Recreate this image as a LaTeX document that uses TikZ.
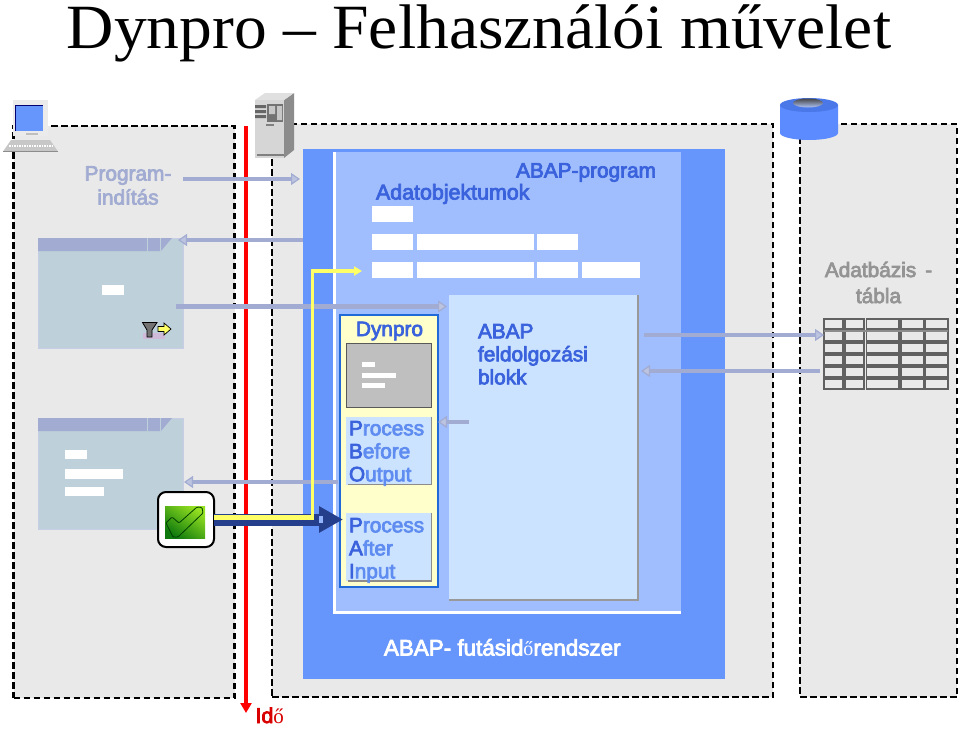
\documentclass[tikz,border=0pt]{standalone}
\usepackage{fontspec}
\usetikzlibrary{arrows.meta,fit,calc,shapes.geometric}
\setmainfont{Liberation Sans}
\newfontfamily\sbf{Liberation Sans}[FakeBold=3.5]
\newfontfamily\ser{Liberation Serif}
\newfontfamily\sertitle{Liberation Serif}[FakeStretch=1.04]
\definecolor{panelgrey}{HTML}{E9E9E9}
\definecolor{rtblue}{HTML}{6696FC}
\definecolor{progblue}{HTML}{A0BEFD}
\definecolor{blockblue}{HTML}{CCE3FF}
\definecolor{txtblue}{HTML}{3A62DC}
\definecolor{txtlight}{HTML}{5F8CF0}
\definecolor{flow}{HTML}{A2ACD2}
\definecolor{flowlt}{HTML}{BCC4E0}
\definecolor{screenbg}{HTML}{BED0DA}
\definecolor{dkblue}{HTML}{263F8C}
\definecolor{yel}{HTML}{FFFF66}
\definecolor{paleyel}{HTML}{FFFFCC}
\definecolor{frame}{HTML}{1F6AD8}
\definecolor{dbbody}{HTML}{5C8AFF}
\definecolor{dbtop}{HTML}{4A78E8}
\definecolor{okhi}{HTML}{95E020}
\definecolor{oklo}{HTML}{0E7A0E}
\tikzset{
  x=1pt,y=-1pt,
  every node/.style={inner sep=0pt,outer sep=0pt},
  box/.style={fit={#1},inner sep=0pt,outer sep=0pt},
  panel/.style={draw=black,fill=panelgrey,line width=2.3pt,dash pattern=on 6.5pt off 3.5pt},
  wbar/.style={fill=white},
  flowarrow/.style={draw=flow,line width=4.4pt,-{Triangle[length=9pt,width=12pt,line width=1.2pt,fill=flowlt,color=flow]}},
  lbl/.style={font={\fontsize{20.8}{23}\selectfont\sbf},align=left,anchor=north west,text=txtblue},
  dbcell/.style={draw=black!62,line width=1.1pt},
}
\newcommand{\Cap}[2]{\textcolor{txtblue}{#1}\textcolor{txtlight}{#2}}
\begin{document}
\begin{tikzpicture}
\useasboundingbox (0,0) rectangle (960,728);
\fill[white] (0,0) rectangle (960,728);
\node[anchor=base,font={\fontsize{63}{67}\selectfont\sertitle}] (title) at (479,48) {Dynpro – Felhasználói művelet};

% dashed panels
\node[box={(13.5,126)(234.5,698)},panel] (client) {};
\node[box={(272,124)(773,697)},panel] (server) {};
\node[box={(800,124)(957,697)},panel] (dbpanel) {};

% runtime + program
\node[box={(303,149)(725,679)},fill=rtblue] (runtime) {};
\node[box={(334.5,152)(681,612.5)},fill=progblue] (program) {};
\draw[white,line width=2.5pt] (program.north west) -- (program.south west) -- (program.south east);

% data objects
\node[box={(372,206)(413,222)},wbar] (d1) {};
\node[box={(372,234)(413,250)},wbar] (d2) {};
\node[box={(417,234)(534,250)},wbar] (d3) {};
\node[box={(537,234)(578,250)},wbar] (d4) {};
\node[box={(372,262)(413,278)},wbar] (d5) {};
\node[box={(417,262)(534,278)},wbar] (d6) {};
\node[box={(537,262)(578,278)},wbar] (d7) {};
\node[box={(582,262)(640,278)},wbar] (d8) {};

% ABAP block
\node[box={(449,295)(638,600)},fill=blockblue] (block) {};
\draw[black!40,line width=1.4pt] (block.north east) -- (block.south east) -- (block.south west);

% Dynpro
\node[box={(339.5,314.5)(438,587)},fill=paleyel,draw=frame,line width=2pt] (dynpro) {};
\node[box={(346.5,343)(431,407)},fill=black!25,draw=black!65,line width=1pt] (dscreen) {};
\node[box={(362,362)(375,367)},wbar] (s1) {};
\node[box={(362,373)(396,378)},wbar] (s2) {};
\node[box={(362,383)(385,388)},wbar] (s3) {};
\node[box={(346,417)(431.5,484.5)},fill=blockblue] (pbo) {};
\draw[black!45,line width=1.2pt] (pbo.north east) -- (pbo.south east) -- ([xshift=2pt]pbo.south west);
\node[box={(346,513)(431.5,581)},fill=blockblue] (pai) {};
\draw[black!45,line width=1.2pt] (pai.north east) -- (pai.south east) -- ([xshift=2pt]pai.south west);

% screens
\node[box={(38,238)(183,348)},fill=screenbg,draw=flow!60,line width=.6pt] (scrA) {};
\fill[flow] (38,238) -- (172,238) -- (161,251) -- (38,251) -- cycle;
\draw[screenbg,line width=1pt] (147.5,238) -- (147.5,251) (160.5,238) -- (160.5,251);
\node[box={(102,285)(124,295)},wbar] (a1) {};
\node[box={(38,418)(183,529)},fill=screenbg,draw=flow!60,line width=.6pt] (scrB) {};
\fill[flow] (38,418) -- (172,418) -- (161,431) -- (38,431) -- cycle;
\draw[screenbg,line width=1pt] (147.5,418) -- (147.5,431) (160.5,418) -- (160.5,431);
\node[box={(65,450)(87,459)},wbar] (b1) {};
\node[box={(65,469)(123,479)},wbar] (b2) {};
\node[box={(65,487)(104,496)},wbar] (b3) {};

% funnel icon
\fill[violet!30,opacity=.7] (143,333) rectangle (165,339);
\fill[black!55] (143,323) -- (157,323) -- (152,330) -- (152,337) -- (147,337) -- (147,330) -- cycle;
\draw[black,line width=.8pt] (142.5,322.5) -- (157,322.5) -- (152,330) -- (152,337) -- (147,337) -- (147,330) -- cycle;
\draw[black,fill=yel,line width=.7pt] (158,326.5) -- (164,326.5) -- (164,323) -- (171,329) -- (164,335) -- (164,331.5) -- (158,331.5) -- cycle;

% DB table
\foreach \r/\yy in {1/319,2/331,3/343,4/355,5/367,6/379}{
  \foreach \xa/\xb in {824/843,845/864,866.5/899,901/924,925.5/948}{
    \draw[dbcell] (\xa,\yy) rectangle (\xb,\yy+10);
  }
}
\fill[black!45] (824,329.5) rectangle (948,331.5);
\node[box={(824,319)(948,389)}] (dbtable) {};

% time line
\coordinate (tTop) at (246,126);
\coordinate (tEnd) at (246,713);
\draw[red,line width=4pt,-{Triangle[length=10pt,width=11pt]}] (tTop) -- (tEnd);
\node[anchor=base west,text=red!85!black,font={\fontsize{21.5}{24}\selectfont\sbf}] (ido) at (255.5,723) {Id{\ser\fontsize{21}{24}\selectfont ő}};

% texts
\node[font={\fontsize{20.8}{24}\selectfont\sbf},align=center,text=flow] (start) at (128,185.5) {Program-\\indítás};
\node[lbl,anchor=base east] (abapprog) at (656,177.5) {ABAP-program};
\node[lbl,anchor=base west,font={\fontsize{21.4}{24}\selectfont\sbf}] (dataobj) at (376,199.5) {Adatobjektumok};
\node[lbl,anchor=base] (dyn) at (389.5,336) {Dynpro};
\node[lbl] (blocktext) at (478,324) {ABAP\\feldolgozási\\blokk};
\node[lbl] (pbot) at (349,421) {\Cap{P}{rocess}\\\Cap{B}{efore}\\\Cap{O}{utput}};
\node[lbl] (pait) at (349,518) {\Cap{P}{rocess}\\\Cap{A}{fter}\\\Cap{I}{nput}};
\node[font={\fontsize{20.8}{26}\selectfont\sbf},align=center,text=black!42] (dbtext) at (878.5,282.5) {Adatbázis\kern9pt-\\tábla};
\node[anchor=base west,text=white,font={\fontsize{22.4}{26}\selectfont\sbf}] (rttext) at (384,655.5) {ABAP- futásid{\ser\fontsize{20}{24}\selectfont ő}rendszer};

% laptop
\fill[black!8] (13,100) rectangle (48,136);
\fill[rtblue] (15,105) rectangle (43,131);
\draw[blue!45!black,line width=.9pt] (15,131) -- (15,105) -- (43,105);
\fill[black!25] (26,133) rectangle (38,135);
\fill[black!22] (11,140) -- (50,140) -- (58,151.5) -- (3,151.5) -- cycle;
\draw[white,line width=1.4pt,dash pattern=on 1.5pt off 1pt] (9,146) -- (52,146);
\draw[black!45,line width=.7pt] (3,151.5) -- (58,151.5);

% server
\fill[black!45] (284,100) -- (294,93) -- (294,150) -- (284,158) -- cycle;
\fill[black!12] (255,100) -- (265,93) -- (294,93) -- (284,100) -- cycle;
\fill[black!16] (255,100) rectangle (284,158);
\fill[black!60] (255,105) rectangle (266,108) (255,110) rectangle (266,113) (255,115) rectangle (266,118);
\fill[black!55] (267,104) rectangle (283,122);
\fill[black!22] (269,106) rectangle (275,114) (277,106) rectangle (282,120);
\fill[black!50] (266,124) rectangle (274,126);
\fill[black!50] (257,154) rectangle (284,156);

% database
\fill[dbbody] (780,105) -- (780,133) arc[start angle=180,end angle=360,x radius=29,y radius=-7] -- (838,105) -- cycle;
\fill[dbtop] (809,105) ellipse [x radius=29,y radius=7];
\begin{scope}
  \clip (808,103) ellipse [x radius=15,y radius=4.5];
  \shade[top color=black!75,bottom color=dbbody!45] (793,98) rectangle (823,108);
\end{scope}

% flow arrows
\coordinate (f1a) at (183,179);
\coordinate (f2a) at (303,240);
\coordinate (f3a) at (176,306.5);
\coordinate (f4a) at (338,482);
\coordinate (f5a) at (469,422);
\coordinate (f6a) at (644,335);
\coordinate (f7a) at (820,371);
\draw[flowarrow] (f1a) -- ($(f1a -| runtime.west)+(-3,0)$);
\draw[flowarrow] (f2a) -- ($(f2a -| scrA.east)+(-5,0)$);
\draw[flowarrow] (f3a) -- ($(f3a -| block.west)+(-2,0)$);
\draw[flowarrow] (f4a) -- ($(f4a -| scrB.east)+(1,0)$);
\draw[flowarrow] (f5a) -- (f5a -| dynpro.east);
\draw[flowarrow] (f6a) -- (f6a -| dbtable.west);
\draw[flowarrow] (f7a) -- ($(f7a -| block.east)+(3,0)$);

% check box
\node[box={(158,492)(214,547)},draw=black,fill=white,line width=2pt,rounded corners=8pt] (okbtn) {};
\coordinate (dkEnd) at (343,519.5);
\draw[dkblue,line width=12pt,-{Triangle[length=24pt,width=25pt]}] (okbtn.east |- dkEnd) -- (dkEnd);
\node[box={(319,516)(323,523)},fill=rtblue!70!white] (dkmark) {};
\coordinate (yTip) at (362,271);
\coordinate (yCorner) at (312.5,271);
\draw[yel,line width=5pt] (okbtn.east |- 0,517.5) -- (314.2,517.5);
\draw[yel,line width=3.4pt,-{Triangle[length=8pt,width=9pt]}] (312.5,520) -- (yCorner) -- (yTip);
\shade[top color=okhi,bottom color=oklo,shading angle=-35] (165,506) rectangle (205,538);
\draw[black!75!green,line width=.8pt,rounded corners=1pt] (166,523) -- (172,517) -- (179,523) -- (197,507) -- (202,507.5) -- (203,513) -- (178,537) -- (173,537) -- cycle;
\end{tikzpicture}
\end{document}
